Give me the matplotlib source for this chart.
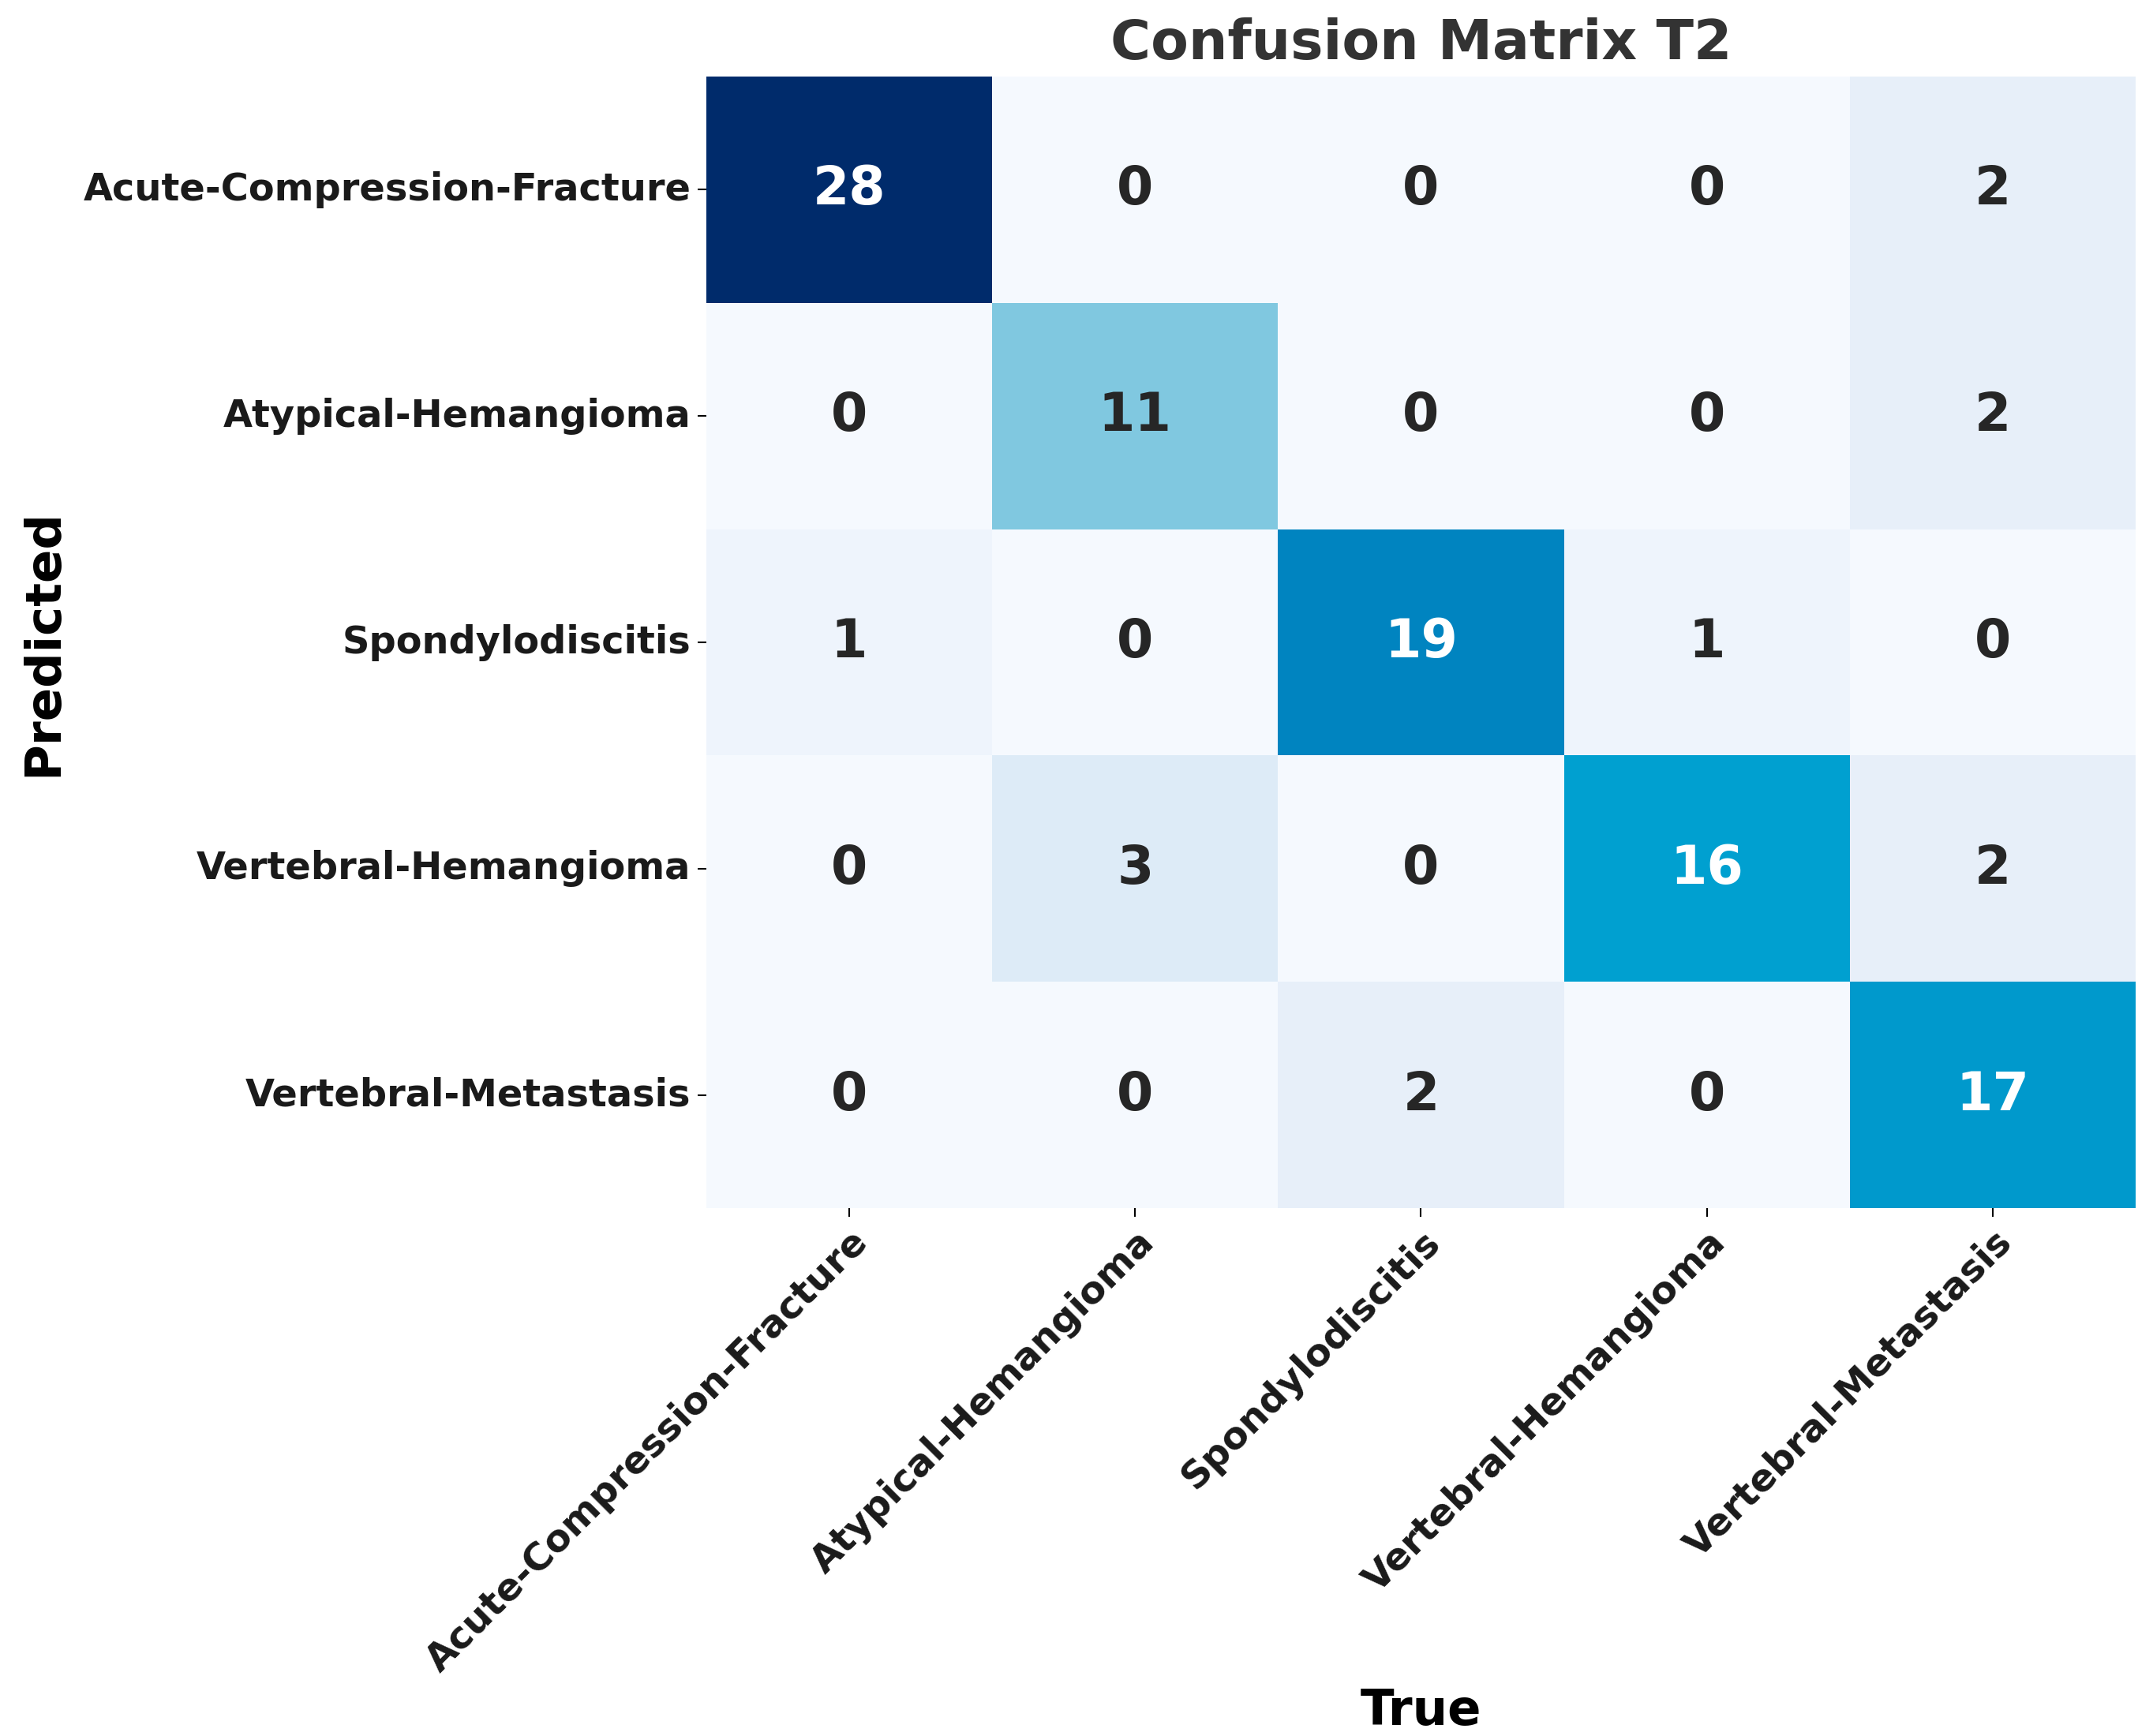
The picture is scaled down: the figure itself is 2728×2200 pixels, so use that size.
import numpy as np
import matplotlib
matplotlib.use("Agg")
import matplotlib.pyplot as plt
from matplotlib.colors import LinearSegmentedColormap
import seaborn as sns

classes = ["Acute-Compression-Fracture", "Atypical-Hemangioma", "Spondylodiscitis",
           "Vertebral-Hemangioma", "Vertebral-Metastasis"]
row0 = [28, 0, 0, 0, 2]
row1 = [0, 11, 0, 0, 2]
row2 = [1, 0, 19, 1, 0]
row3 = [0, 3, 0, 16, 2]
row4 = [0, 0, 2, 0, 17]
cm = np.array([row0, row1, row2, row3, row4])

cmap = LinearSegmentedColormap.from_list("cmx", [
    (0.0, "#f5f9fe"), (2/28, "#e7eff9"), (3/28, "#ddebf7"), (11/28, "#80c8e0"),
    (16/28, "#00a0d0"), (17/28, "#0099cc"), (19/28, "#0084c0"), (1.0, "#002b6b")])

plt.rcParams['font.family'] = ['DejaVu Sans']
fig = plt.figure(figsize=(27.28, 22), dpi=100)
ax = fig.add_axes([0.328, 0.304, 0.664, 0.652])
sns.heatmap(cm, annot=True, fmt="d", cmap=cmap, cbar=False, ax=ax,
            annot_kws={"fontsize": 48, "fontweight": "bold"},
            xticklabels=classes, yticklabels=classes)
ax.set_title("Confusion Matrix T2", fontsize=50, fontweight="bold", color="#333333", pad=16)
ax.set_xlabel("True", fontsize=45, fontweight="bold")
ax.set_ylabel("Predicted", fontsize=45, fontweight="bold")
ax.xaxis.set_label_coords(0.5, -0.424)
ax.yaxis.set_label_coords(-0.447, 0.5)
plt.setp(ax.get_xticklabels(), rotation=45, ha="right", rotation_mode="anchor",
         fontsize=34.5, fontweight="bold", color="#1a1a1a")
plt.setp(ax.get_yticklabels(), rotation=0, fontsize=34.5, fontweight="bold", color="#1a1a1a")
ax.tick_params(axis="both", length=8, width=1.5, pad=6)
fig.savefig("out.png", dpi=100)
